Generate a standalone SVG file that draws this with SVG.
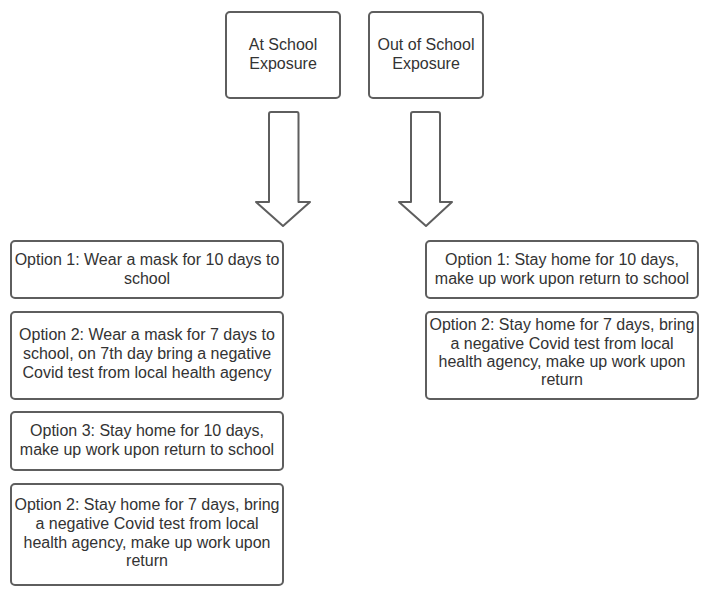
<svg xmlns="http://www.w3.org/2000/svg" width="707" height="599" viewBox="0 0 707 599">
<style>
.box{fill:#fff;stroke:#5e5e5e;stroke-width:2}
.arr{fill:#fff;stroke:#5e5e5e;stroke-width:2;stroke-linejoin:round}
text{font-family:"Liberation Sans",Arial,sans-serif;font-size:16px;fill:#333;text-anchor:middle}
</style>
<rect width="707" height="599" fill="#fff"/>
<g id="at-school">
<rect class="box" x="226" y="12" width="114" height="86" rx="4"/>
<text x="283" y="50">At School</text>
<text x="283" y="69">Exposure</text>
</g>
<g id="out-school">
<rect class="box" x="369" y="12" width="114" height="86" rx="4"/>
<text x="426" y="50">Out of School</text>
<text x="426" y="69">Exposure</text>
</g>
<g id="connectors">
<path class="arr" d="M271 112 H297 Q298.5 112 298.5 114 V202 H310 L283 226 L256 202 H269 V114 Q269 112 271 112 Z"/>
<path class="arr" d="M413 112 H438 Q440 112 440 114 V202 H452 L426 226 L399 202 H411 V114 Q411 112 413 112 Z"/>
</g>
<g id="left-opt1">
<rect class="box" x="11" y="241" width="272" height="57" rx="4"/>
<text x="147" y="265">Option 1: Wear a mask for 10 days to</text>
<text x="147" y="284">school</text>
</g>
<g id="left-opt2">
<rect class="box" x="11" y="312" width="272" height="87" rx="4"/>
<text x="147" y="340">Option 2: Wear a mask for 7 days to</text>
<text x="147" y="359">school, on 7th day bring a negative</text>
<text x="147" y="378">Covid test from local health agency</text>
</g>
<g id="left-opt3">
<rect class="box" x="11" y="412" width="272" height="58" rx="4"/>
<text x="147" y="436">Option 3: Stay home for 10 days,</text>
<text x="147" y="455">make up work upon return to school</text>
</g>
<g id="left-opt4">
<rect class="box" x="11" y="484" width="272" height="101" rx="4"/>
<text x="147" y="510">Option 2: Stay home for 7 days, bring</text>
<text x="147" y="529">a negative Covid test from local</text>
<text x="147" y="548">health agency, make up work upon</text>
<text x="147" y="566">return</text>
</g>
<g id="right-opt1">
<rect class="box" x="426" y="241" width="272" height="57" rx="4"/>
<text x="562" y="265">Option 1: Stay home for 10 days,</text>
<text x="562" y="284">make up work upon return to school</text>
</g>
<g id="right-opt2">
<rect class="box" x="426" y="312" width="272" height="87" rx="4"/>
<text x="562" y="330">Option 2: Stay home for 7 days, bring</text>
<text x="562" y="349">a negative Covid test from local</text>
<text x="562" y="367">health agency, make up work upon</text>
<text x="562" y="385">return</text>
</g>
</svg>
